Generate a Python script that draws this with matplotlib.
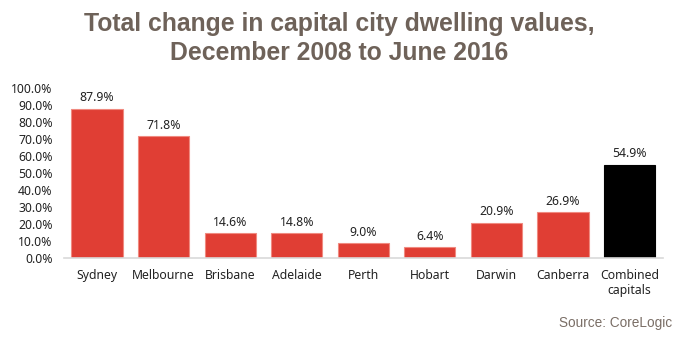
import matplotlib.pyplot as plt
from matplotlib.ticker import FuncFormatter

cities = ["Sydney", "Melbourne", "Brisbane", "Adelaide", "Perth", "Hobart",
          "Darwin", "Canberra", "Combined\ncapitals"]
change_pct = [87.9, 71.8, 14.6, 14.8, 9.0, 6.4, 20.9, 26.9, 54.9]
bar_colors = ["#e03e34"] * 8 + ["#000000"]
edge_colors = ["#f08a80"] * 8 + ["#000000"]

plt.rcParams["font.family"] = ["Noto Sans", "DejaVu Sans"]

fig = plt.figure(figsize=(6.79, 3.40), dpi=100)
ax = fig.add_axes([0.094, 0.241, 0.882, 0.5])

x = range(len(cities))
ax.bar(x, change_pct, width=0.77, color=bar_colors, edgecolor=edge_colors, linewidth=0.8)

for xi, v in zip(x, change_pct):
    ax.text(xi, v + 2.5, f"{v:.1f}%", ha="center", va="bottom", fontsize=8.8, color="#222222")

ax.set_xlim(-0.5, len(cities) - 0.5)
ax.set_ylim(0, 100)
ax.set_yticks(range(0, 101, 10))
ax.yaxis.set_major_formatter(FuncFormatter(lambda v, p: f"{v:.1f}%"))
ax.set_xticks(list(x))
ax.set_xticklabels(cities, fontsize=8.8, color="#222222", va="top", linespacing=1.2)
ax.tick_params(axis="y", labelsize=8.8, colors="#222222", length=0, pad=8)
ax.tick_params(axis="x", length=0, pad=8)

for side in ["top", "right", "left"]:
    ax.spines[side].set_visible(False)
ax.spines["bottom"].set_color("#d9d9d9")
ax.spines["bottom"].set_linewidth(1.2)

fig.text(0.5, 0.888, "Total change in capital city dwelling values,\nDecember 2008 to June 2016",
         ha="center", va="center", fontsize=17.8, fontweight="bold",
         color="#6e6259", family="Liberation Sans", linespacing=1.26)
fig.text(0.99, 0.05, "Source: CoreLogic", ha="right", va="center", fontsize=9.8,
         color="#7a6e66", family="Liberation Sans")

fig.savefig("out.png", dpi=100)
